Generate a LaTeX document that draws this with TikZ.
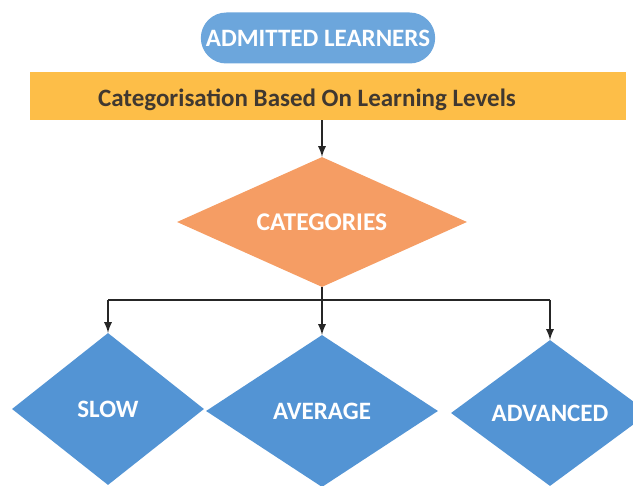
\documentclass[tikz,border=0pt]{standalone}
\usepackage{fontspec}
\setmainfont{Carlito}
\usetikzlibrary{shapes.geometric,shapes.misc}

\definecolor{pillblue}{RGB}{108,166,220}
\definecolor{boxblue}{RGB}{83,148,212}
\definecolor{barorange}{RGB}{253,190,72}
\definecolor{catorange}{RGB}{245,157,100}
\definecolor{bartext}{RGB}{64,56,48}

\tikzset{
  leveldia/.style={diamond, shape aspect=1.3, fill=boxblue, inner sep=0pt, text=white,
    font=\bfseries\fontsize{25}{25}\selectfont},
  link/.style={draw=black!85, line width=2.6pt},
}

\begin{document}
\begin{tikzpicture}[x=1pt,y=-1pt]
\useasboundingbox (0,0) rectangle (633,486);
\node[rounded rectangle, fill=pillblue, minimum width=241pt, minimum height=51pt,
  text=white, font=\bfseries\fontsize{25}{25}\selectfont] (admit) at (318,38) {ADMITTED LEARNERS};
\node[fill=barorange, minimum width=596pt, minimum height=48pt, inner sep=0pt] (bar) at (328,96) {};
\node[text=bartext, font=\bfseries\fontsize{25}{25}\selectfont] (bartxt) at (307,100) {Categorisation Based On Learning Levels};
\node[diamond, shape aspect=2, fill=catorange, inner sep=0pt, minimum width=290pt, minimum height=130pt,
  text=white, font=\bfseries\fontsize{25.5}{25.5}\selectfont] (cat) at (322,222) {CATEGORIES};
\coordinate (bus) at (322,300);
\node[leveldia, minimum width=192pt, minimum height=152pt] (slow) at (108,409) {SLOW};
\node[leveldia, minimum width=232pt, minimum height=152pt] (avg) at (322,411) {AVERAGE};
\node[leveldia, minimum width=198pt, minimum height=146pt] (adv) at (550,413) {ADVANCED};
% connectors
\draw[link,-latex] (bar.south -| cat.north) -- (cat.north);
\draw[link] (cat.south) -- (bus);
\draw[link] (slow.north |- bus) -- (adv.north |- bus);
\draw[link,-latex] (slow.north |- bus) -- (slow.north);
\draw[link,-latex] (bus) -- (avg.north);
\draw[link,-latex] (adv.north |- bus) -- (adv.north);
\end{tikzpicture}
\end{document}
